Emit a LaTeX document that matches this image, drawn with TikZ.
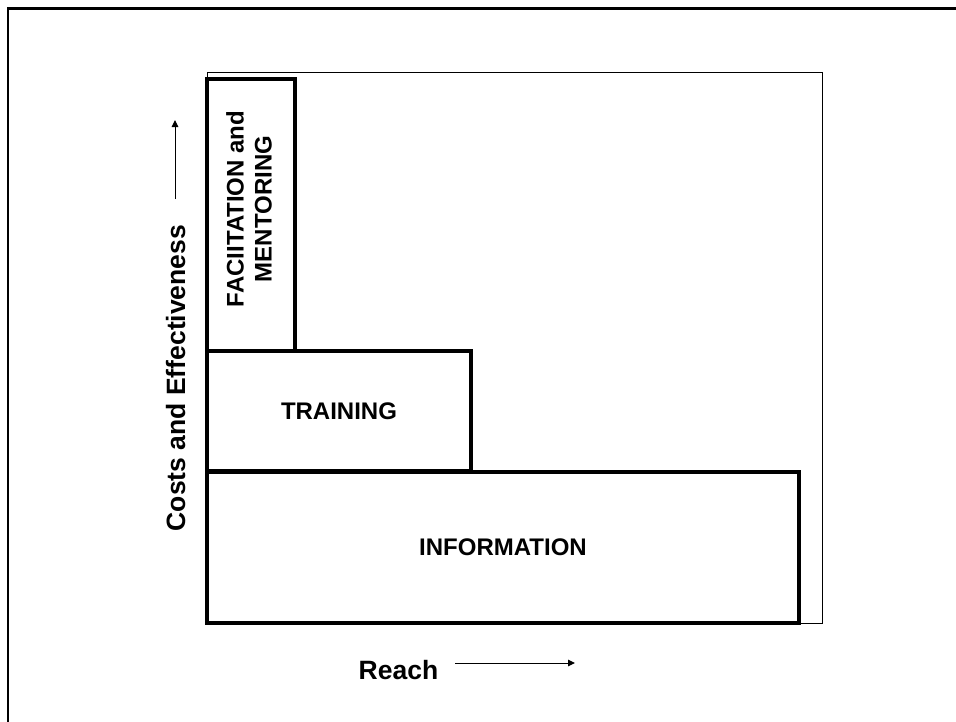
\documentclass[tikz,border=0pt]{standalone}
\usepackage{fontspec}
\setmainfont{Liberation Sans}
\usetikzlibrary{arrows.meta}
\begin{document}
\begin{tikzpicture}[x=1pt,y=-1pt,
  thickbox/.style={draw=black,line width=3.6pt,inner sep=0pt,outer sep=0pt,font=\fontsize{24}{28}\selectfont\bfseries,align=center},
  axislabel/.style={font=\fontsize{26.5}{30}\selectfont\bfseries,inner sep=0pt},
  axisarrow/.style={line width=1pt,-{Triangle[length=7pt,width=6.5pt]}}]
\useasboundingbox (0,0) rectangle (956,721);
\clip (0,0) rectangle (956,721);
\fill[white] (0,0) rectangle (956,721);
% outer border
\draw[line width=2.7pt] (8,740) -- (8,8.5) -- (970,8.5);
% thin frame
\draw[line width=1pt] (207,72) rectangle (822.5,623.5);
% boxes
\node[thickbox,minimum width=592pt,minimum height=151pt] (info) at (503,547.5) {INFORMATION};
\node[thickbox,minimum width=264pt,minimum height=120pt] (train) at (339,411) {TRAINING};
\node[thickbox,minimum width=88pt,minimum height=272pt] (facbox) at (251,215) {};
\node[font=\fontsize{24}{28}\selectfont\bfseries,align=center,rotate=90,inner sep=0pt] (fac) at (249,209) {FACIITATION and\\MENTORING};
% axis labels
\node[axislabel,anchor=base,rotate=90] (costs) at (185,378) {Costs and Effectiveness};
\node[axislabel,anchor=base] (reach) at (398.5,679) {Reach};
% arrows
\coordinate (ya) at (175,199);
\coordinate (yb) at (175,120);
\coordinate (xa) at (455,663);
\coordinate (xb) at (575,663);
\draw[axisarrow] (ya) -- (yb);
\draw[axisarrow] (xa) -- (xb);
\end{tikzpicture}
\end{document}
